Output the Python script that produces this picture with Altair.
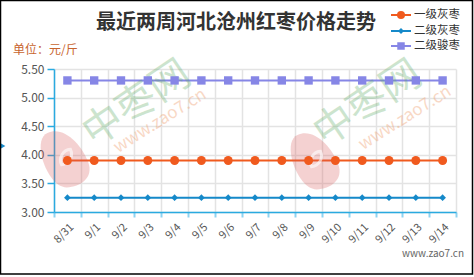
import altair as alt
import pandas as pd

dates = ["8/31", "9/1", "9/2", "9/3", "9/4", "9/5", "9/6", "9/7", "9/8", "9/9",
         "9/10", "9/11", "9/12", "9/13", "9/14"]
series_names = ["一级灰枣", "二级灰枣", "二级骏枣"]
grade1_hui = [3.90] * 15
grade2_hui = [3.25] * 15
grade2_jun = [5.30] * 15
colors = ["#F05A1E", "#1589C9", "#8686E6"]
shapes = ["circle", "diamond", "square"]
sizes = [80, 45, 70]
y_ticks = [3.0, 3.5, 4.0, 4.5, 5.0, 5.5]

rows = []
for name, vals in zip(series_names, [grade1_hui, grade2_hui, grade2_jun]):
    for d, v in zip(dates, vals):
        rows.append({"date": d, "series": name, "price": v})
df = pd.DataFrame(rows)

W, H = 402, 143
L, T = 54, 69
AXIS_BLUE = "#2AAAE0"

x_enc = alt.X("date:N", sort=dates, scale=alt.Scale(paddingInner=0, paddingOuter=0),
              axis=alt.Axis(title=None, labelAngle=315, labelAlign="right", labelBaseline="top",
                            labelColor="#555", labelFont="Noto Sans CJK SC", labelFontSize=11,
                            labelPadding=4, tickBand="extent", tickColor="#8fd3f0", tickSize=5,
                            tickWidth=2, domainColor=AXIS_BLUE, domainWidth=1.5,
                            grid=True, gridColor="#e3e3e3", gridWidth=1.5, labelOverlap=False))
y_enc = alt.Y("price:Q", scale=alt.Scale(domain=[3.0, 5.5], nice=False, zero=False),
              axis=alt.Axis(title=None, values=y_ticks, format=".2f", labelColor="#555",
                            labelFont="Noto Sans CJK SC", labelFontSize=12, labelPadding=3,
                            tickColor=AXIS_BLUE, tickSize=7, tickWidth=1.5,
                            domainColor=AXIS_BLUE, domainWidth=1.5, labelOverlap=False,
                            grid=True, gridColor="#e3e3e3", gridWidth=1.5))
color_enc = alt.Color("series:N", scale=alt.Scale(domain=series_names, range=colors), legend=None)

# watermarks (decorative, pixel positions relative to the plot area)
def wm_text(txt, x, y, size, color, opacity, angle, weight="normal"):
    return alt.Chart(pd.DataFrame({"t": [txt]})).mark_text(
        font="Noto Sans CJK SC", fontSize=size, color=color, opacity=opacity, angle=angle,
        align="center", baseline="middle", fontWeight=weight
    ).encode(text="t:N", x=alt.value(x), y=alt.value(y))

logo_path = ("M-0.15,-1.2 C0.5,-1.2 0.8,-0.3 0.75,0.4 C0.7,1.0 0.1,1.1 -0.35,0.9 "
             "C-0.75,0.7 -0.8,0.0 -0.7,-0.5 C-0.6,-0.95 -0.4,-1.2 -0.15,-1.2 Z")
eye_path = "M-1,0 C-0.5,-0.7 0.5,-0.7 1,0 C0.5,0.7 -0.5,0.7 -1,0 Z"
def logo(x, y):
    base = alt.Chart(pd.DataFrame({"a": [0]})).mark_point(
        shape=logo_path, size=3000, filled=True, color="#d85a5a", opacity=0.28, angle=335
    ).encode(x=alt.value(x), y=alt.value(y))
    inner = alt.Chart(pd.DataFrame({"a": [0]})).mark_point(
        shape=eye_path, size=320, filled=False, color="#ffffff", strokeWidth=3, opacity=0.6,
        angle=300
    ).encode(x=alt.value(x + 1), y=alt.value(y - 4))
    return base + inner

marks = [
    logo(65 - L, 161 - T), logo(315 - L, 163 - T),
    wm_text("中枣网", 137 - L, 104 - T, 40, "#5aa860", 0.3, 326),
    wm_text("中枣网", 368 - L, 104 - T, 40, "#5aa860", 0.3, 326),
    wm_text("www.zao7.cn", 160 - L, 121 - T, 17, "#f0a070", 0.4, 328),
    wm_text("www.zao7.cn", 405 - L, 118 - T, 17, "#f0a070", 0.4, 328),
]

base = alt.Chart(df)
lines = base.mark_line(strokeWidth=2).encode(x=x_enc, y=y_enc, color=color_enc)
pts = []
for name, col, shp, sz in zip(series_names, colors, shapes, sizes):
    pts.append(alt.Chart(df[df.series == name]).mark_point(
        shape=shp, size=sz, filled=True, opacity=1, color=col
    ).encode(x=x_enc, y=y_enc))

# title, unit, footer
title = alt.Chart(pd.DataFrame({"t": ["最近两周河北沧州红枣价格走势"]})).mark_text(
    font="Noto Sans CJK SC", fontSize=20, fontWeight="bold", color="#333", align="center",
    baseline="middle").encode(text="t:N", x=alt.value(236 - L), y=alt.value(23 - T))
unit = alt.Chart(pd.DataFrame({"t": ["单位：元/斤"]})).mark_text(
    font="Noto Sans CJK SC", fontSize=12, color="#C8642D", align="left",
    baseline="middle").encode(text="t:N", x=alt.value(13 - L), y=alt.value(50 - T))
footer = alt.Chart(pd.DataFrame({"t": ["www.zao7.cn"]})).mark_text(
    font="Noto Sans CJK SC", fontSize=10, color="#666", align="right",
    baseline="middle").encode(text="t:N", x=alt.value(464 - L), y=alt.value(254 - T))

# legend
leg = []
leg_y = [15, 31, 46]
for name, col, shp, sz, ly in zip(series_names, colors, shapes, sizes, leg_y):
    leg.append(alt.Chart(pd.DataFrame({"a": [0]})).mark_rule(color=col, strokeWidth=2).encode(
        x=alt.value(391 - L), x2=alt.value(411 - L), y=alt.value(ly - T)))
    leg.append(alt.Chart(pd.DataFrame({"a": [0]})).mark_point(
        shape=shp, size=sz * 0.8, filled=True, opacity=1, color=col).encode(
        x=alt.value(401 - L), y=alt.value(ly - T)))
    leg.append(alt.Chart(pd.DataFrame({"t": [name]})).mark_text(
        font="Noto Sans CJK SC", fontSize=11.5, color="#333", align="left", baseline="middle"
    ).encode(text="t:N", x=alt.value(414 - L), y=alt.value(ly - T)))

# left edge marker
tri = alt.Chart(pd.DataFrame({"a": [0]})).mark_point(
    shape="triangle-right", size=30, filled=True, opacity=1, color="#1589C9").encode(
    x=alt.value(3 - L), y=alt.value(146 - T))

border = alt.Chart(pd.DataFrame({"a": [0]})).mark_rect(
    fill=None, stroke="#000", strokeWidth=1.5).encode(
    x=alt.value(0.5 - L), x2=alt.value(472.5 - L), y=alt.value(0.5 - T), y2=alt.value(274 - T))

chart = alt.layer(lines, *marks, *pts, title, unit, footer, *leg, tri, border).properties(
    width=W, height=H,
    autosize=alt.AutoSizeParams(type="none"),
    padding={"left": L, "top": T, "right": 474 - L - W, "bottom": 277 - T - H},
    background="white",
).configure_view(stroke=None)

chart.save("out.html", embed_options={"renderer": "svg", "actions": False})
